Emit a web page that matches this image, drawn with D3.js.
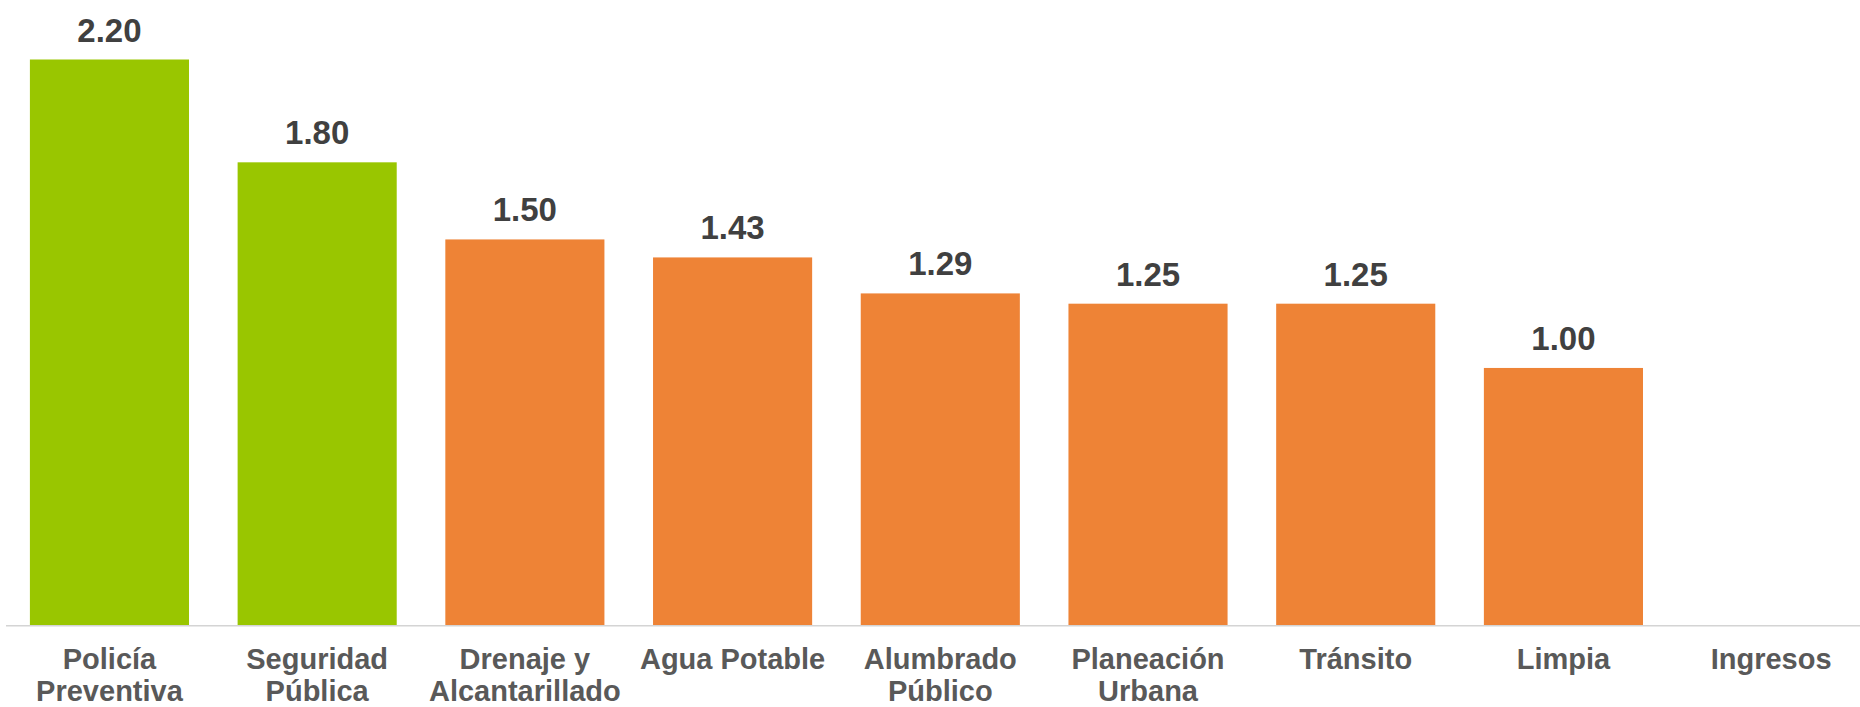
<!DOCTYPE html>
<html>
<head>
<meta charset="utf-8">
<script src="https://cdn.jsdelivr.net/npm/d3@7"></script>
<style>
  body { margin: 0; background: #fff; }
  text { font-family: "Liberation Sans", Arial, sans-serif; font-weight: bold; }
</style>
</head>
<body>
<div class="chart"></div>
<script>
// Categories (line-broken as in the original axis)
const categories = [
  ["Policía", "Preventiva"],
  ["Seguridad", "Pública"],
  ["Drenaje y", "Alcantarillado"],
  ["Agua Potable"],
  ["Alumbrado", "Público"],
  ["Planeación", "Urbana"],
  ["Tránsito"],
  ["Limpia"],
  ["Ingresos"]
];
const values = [2.20, 1.80, 1.50, 1.43, 1.29, 1.25, 1.25, 1.00, null];
const highlighted = [true, true, false, false, false, false, false, false, false];

const width = 1860, height = 707;
const baseline = 625;

const svg = d3.select(".chart")
  .append("svg")
  .attr("width", width)
  .attr("height", height);

const keys = categories.map(function (d) { return d.join(" "); });

const x = d3.scaleBand()
  .domain(keys)
  .range([5.6, 1875])
  .paddingInner(0.234)
  .paddingOuter(0.117);

const y = d3.scaleLinear()
  .domain([0, 2.2])
  .range([baseline, 59.5]);

// bars
const bars = keys.map(function (k, i) {
  return { key: k, value: values[i], hi: highlighted[i], lines: categories[i] };
});

svg.selectAll("rect.bar")
  .data(bars.filter(function (d) { return d.value != null; }))
  .enter()
  .append("rect")
  .attr("class", "bar")
  .attr("x", function (d) { return x(d.key); })
  .attr("y", function (d) { return y(d.value); })
  .attr("width", x.bandwidth())
  .attr("height", function (d) { return baseline - y(d.value); })
  .attr("fill", function (d) { return d.hi ? "#99C600" : "#EE8336"; });

// value labels
svg.selectAll("text.value")
  .data(bars.filter(function (d) { return d.value != null; }))
  .enter()
  .append("text")
  .attr("class", "value")
  .attr("x", function (d) { return x(d.key) + x.bandwidth() / 2; })
  .attr("y", function (d) { return y(d.value) - 18; })
  .attr("text-anchor", "middle")
  .style("font-size", "33px")
  .style("fill", "#404040")
  .text(function (d) { return d3.format(".2f")(d.value); });

// x axis line
svg.append("line")
  .attr("x1", 6)
  .attr("x2", width)
  .attr("y1", baseline + 0.75)
  .attr("y2", baseline + 0.75)
  .attr("stroke", "#D4D4D4")
  .attr("stroke-width", 1.5);

// category labels
const labels = svg.selectAll("text.cat")
  .data(bars)
  .enter()
  .append("text")
  .attr("class", "cat")
  .attr("text-anchor", "middle")
  .style("font-size", "29px")
  .style("fill", "#595959")
  .attr("transform", function (d) {
    return "translate(" + (x(d.key) + x.bandwidth() / 2) + ",669)";
  });

labels.selectAll("tspan")
  .data(function (d) { return d.lines; })
  .enter()
  .append("tspan")
  .attr("x", 0)
  .attr("y", function (d, i) { return i * 31.5; })
  .text(function (d) { return d; });
</script>
</body>
</html>
